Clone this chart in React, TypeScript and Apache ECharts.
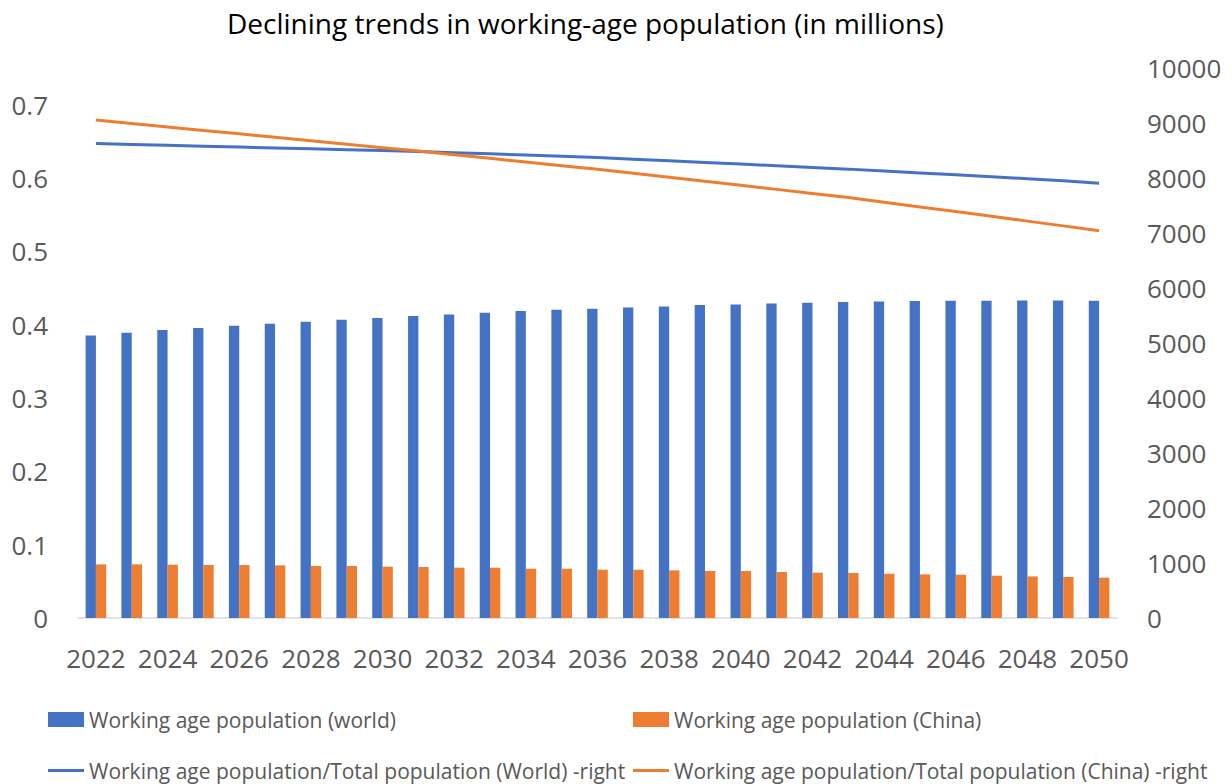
import React, { useEffect, useRef } from "react";
import * as echarts from "echarts";

const years: string[] = [
  "2022", "2023", "2024", "2025", "2026", "2027", "2028", "2029", "2030", "2031",
  "2032", "2033", "2034", "2035", "2036", "2037", "2038", "2039", "2040", "2041",
  "2042", "2043", "2044", "2045", "2046", "2047", "2048", "2049", "2050",
];

const worldWorking: number[] = [
  5138, 5187, 5236, 5273, 5315, 5351, 5387, 5424, 5455, 5491,
  5520, 5551, 5582, 5605, 5624, 5647, 5665, 5691, 5702, 5720,
  5733, 5745, 5756, 5764, 5769, 5769, 5775, 5775, 5769,
];

const chinaWorking: number[] = [
  975, 975, 969, 963, 963, 957, 945, 945, 933, 927,
  915, 915, 896, 896, 878, 878, 866, 855, 855, 836,
  824, 818, 805, 793, 787, 769, 756, 745, 733,
];

const worldRatio: number[] = [
  0.647, 0.6458, 0.6446, 0.6434, 0.6422, 0.641, 0.6398, 0.6386, 0.6374, 0.6361,
  0.6346, 0.633, 0.6313, 0.6296, 0.6278, 0.6256, 0.6234, 0.6212, 0.619, 0.6167,
  0.6144, 0.6121, 0.6095, 0.6069, 0.6043, 0.6017, 0.599, 0.5961, 0.593,
];

const chinaRatio: number[] = [
  0.679, 0.6743, 0.6696, 0.6649, 0.6602, 0.6555, 0.6508, 0.6461, 0.6414, 0.6367,
  0.6318, 0.6268, 0.6218, 0.6168, 0.6118, 0.6064, 0.601, 0.5955, 0.59, 0.5845,
  0.579, 0.5733, 0.567, 0.5606, 0.5542, 0.5477, 0.5412, 0.5347, 0.5282,
];

const seriesNames = {
  worldBar: "Working age population (world)",
  chinaBar: "Working age population (China)",
  worldLine: "Working age population/Total population (World) -right",
  chinaLine: "Working age population/Total population (China) -right",
};

const title = "Declining trends in working-age population (in millions)";

const BLUE = "#4472C4";
const ORANGE = "#ED7D31";
const GREY = "#595959";
const FONT = "'Open Sans', sans-serif";

export default function App() {
  const ref = useRef<HTMLDivElement>(null);

  useEffect(() => {
    if (!ref.current) return;
    const chart = echarts.init(ref.current, null, { renderer: "svg" });
    const legendText = { color: GREY, fontSize: 21, fontFamily: FONT };
    const mkLegend = (name: string, left: number, top: number, color: string, h: number) => ({
      data: [{ name, icon: "rect", itemStyle: { color } }],
      left,
      top,
      itemWidth: 36,
      itemHeight: h,
      itemGap: 0,
      padding: 0,
      textStyle: legendText,
      selectedMode: false,
    });
    chart.setOption({
      animation: false,
      backgroundColor: "#ffffff",
      textStyle: { fontFamily: FONT },
      title: {
        text: title,
        left: 222,
        top: 4,
        textStyle: { fontSize: 28, fontWeight: "normal", color: "#000000", fontFamily: FONT },
      },
      legend: [
        mkLegend(seriesNames.worldBar, 48, 709, BLUE, 15),
        mkLegend(seriesNames.chinaBar, 633, 709, ORANGE, 15),
        mkLegend(seriesNames.worldLine, 48, 760, BLUE, 3),
        mkLegend(seriesNames.chinaLine, 633, 760, ORANGE, 3),
      ],
      grid: { left: 78, right: 115, top: 68, bottom: 166, containLabel: false },
      xAxis: {
        type: "category",
        data: years,
        boundaryGap: true,
        axisLine: { show: true, lineStyle: { color: "#D9D9D9", width: 1.5 } },
        axisTick: { show: false },
        axisLabel: { interval: 1, color: GREY, fontSize: 26, fontFamily: FONT, margin: 27 },
      },
      yAxis: [
        {
          type: "value",
          min: 0,
          max: 0.75,
          interval: 0.1,
          position: "left",
          splitLine: { show: false },
          axisLine: { show: false },
          axisTick: { show: false },
          axisLabel: { color: GREY, fontSize: 26, fontFamily: FONT, margin: 30, showMaxLabel: false },
        },
        {
          type: "value",
          min: 0,
          max: 10000,
          interval: 1000,
          position: "right",
          splitLine: { show: false },
          axisLine: { show: false },
          axisTick: { show: false },
          axisLabel: {
            color: GREY,
            fontSize: 26,
            fontFamily: FONT,
            margin: 30,
            formatter: (v: number) => String(v),
          },
        },
      ],
      series: [
        {
          name: seriesNames.worldBar,
          type: "bar",
          yAxisIndex: 1,
          data: worldWorking,
          barWidth: 10.3,
          barGap: "0%",
          itemStyle: { color: BLUE },
        },
        {
          name: seriesNames.chinaBar,
          type: "bar",
          yAxisIndex: 1,
          data: chinaWorking,
          barWidth: 10.3,
          barGap: "0%",
          itemStyle: { color: ORANGE },
        },
        {
          name: seriesNames.worldLine,
          type: "line",
          yAxisIndex: 0,
          data: worldRatio,
          symbol: "none",
          z: 3,
          lineStyle: { color: BLUE, width: 3 },
          itemStyle: { color: BLUE },
        },
        {
          name: seriesNames.chinaLine,
          type: "line",
          yAxisIndex: 0,
          data: chinaRatio,
          symbol: "none",
          z: 3,
          lineStyle: { color: ORANGE, width: 3 },
          itemStyle: { color: ORANGE },
        },
      ],
    });
    return () => chart.dispose();
  }, []);

  return (
    <div
      ref={ref}
      style={{ position: "fixed", left: 0, top: 0, width: 1232, height: 784, background: "#fff" }}
    />
  );
}
